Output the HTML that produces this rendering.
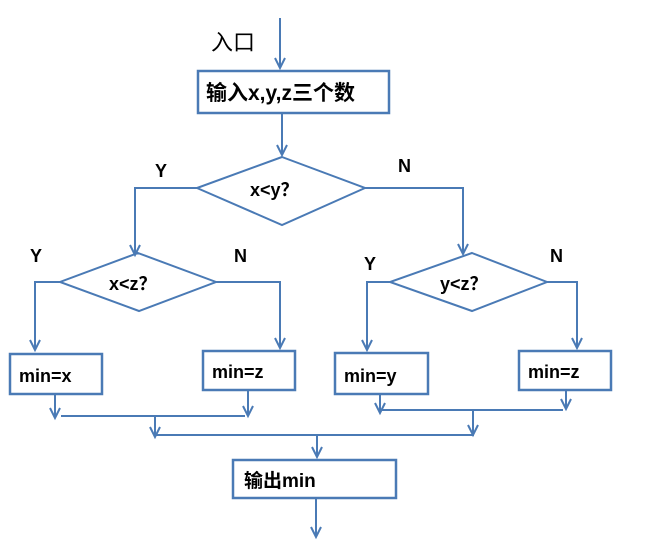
<!DOCTYPE html>
<html><head><meta charset="utf-8"><style>
html,body{margin:0;padding:0;background:#fff;}
svg{display:block}
text{font-family:"Liberation Sans","Noto Sans CJK SC",sans-serif;fill:#000;}
</style></head><body>
<svg width="672" height="542" viewBox="0 0 672 542" xmlns="http://www.w3.org/2000/svg">
<defs>
<marker id="a" markerWidth="12" markerHeight="12" refX="6" refY="11" orient="auto" markerUnits="userSpaceOnUse" viewBox="0 0 12 12">
<path d="M1,1 L6,11 L11,1" fill="none" stroke="#4a7ab5" stroke-width="1.6" transform="rotate(-90 6 6)"/>
</marker>
</defs>
<g stroke="#4a7ab5" stroke-width="2" fill="none">
<!-- entry -->
<line x1="280" y1="18" x2="280" y2="68"/>
<path d="M275,58 L280,68 L285,58"/>
<rect x="198" y="71" width="191" height="42" stroke-width="2.5"/>
<line x1="282" y1="113" x2="282" y2="155"/>
<path d="M277,145 L282,155 L287,145"/>
<polygon points="282,157 365,188 282,225 197,188"/>
<polyline points="197,188 135,188 135,255"/>
<path d="M130,245 L135,255 L140,245"/>
<polyline points="365,188 463,188 463,254"/>
<path d="M458,244 L463,254 L468,244"/>
<polygon points="138,253 216,282 139,311 60,282"/>
<polyline points="60,282 35,282 35,350"/>
<path d="M30,340 L35,350 L40,340"/>
<polyline points="216,282 280,282 280,348"/>
<path d="M275,338 L280,348 L285,338"/>
<polygon points="472,253 547,282 472,311 390,282"/>
<polyline points="390,282 367,282 367,350"/>
<path d="M362,340 L367,350 L372,340"/>
<polyline points="547,282 577,282 577,348"/>
<path d="M572,338 L577,348 L582,338"/>
<rect x="10" y="354" width="92" height="40" stroke-width="2.5"/>
<rect x="203" y="351" width="92" height="39" stroke-width="2.5"/>
<rect x="335" y="353" width="93" height="41" stroke-width="2.5"/>
<rect x="519" y="351" width="92" height="39" stroke-width="2.5"/>
<line x1="55" y1="394" x2="55" y2="418"/>
<path d="M50,408 L55,418 L60,408"/>
<line x1="248" y1="390" x2="248" y2="416"/>
<path d="M243,406 L248,416 L253,406"/>
<line x1="61" y1="416" x2="245" y2="416"/>
<line x1="380" y1="394" x2="380" y2="413"/>
<path d="M375,403 L380,413 L385,403"/>
<line x1="566" y1="390" x2="566" y2="409"/>
<path d="M561,399 L566,409 L571,399"/>
<line x1="381" y1="410" x2="563" y2="410"/>
<line x1="155" y1="416" x2="155" y2="437"/>
<path d="M150,427 L155,437 L160,427"/>
<line x1="473" y1="410" x2="473" y2="435"/>
<path d="M468,425 L473,435 L478,425"/>
<line x1="155" y1="435" x2="474" y2="435"/>
<line x1="317" y1="435" x2="317" y2="457"/>
<path d="M312,447 L317,457 L322,447"/>
<rect x="233" y="460" width="163" height="38" stroke-width="2.5"/>
<line x1="316" y1="498" x2="316" y2="537"/>
<path d="M311,527 L316,537 L321,527"/>
</g>
<text x="211" y="50" font-size="22">入口</text>
<text x="206" y="100" font-size="21" font-weight="bold">输入x,y,z三个数</text>
<text x="250" y="196" font-size="18" font-weight="bold">x&lt;y？</text>
<text x="109" y="290" font-size="18" font-weight="bold">x&lt;z？</text>
<text x="440" y="290" font-size="18" font-weight="bold">y&lt;z？</text>
<text x="19" y="382" font-size="18" font-weight="bold">min=x</text>
<text x="212" y="378" font-size="18" font-weight="bold">min=z</text>
<text x="344" y="382" font-size="18" font-weight="bold">min=y</text>
<text x="528" y="378" font-size="18" font-weight="bold">min=z</text>
<text x="244" y="487" font-size="19" font-weight="bold">输出min</text>
<g font-size="18" font-weight="bold">
<text x="155" y="177">Y</text>
<text x="398" y="172">N</text>
<text x="30" y="262">Y</text>
<text x="234" y="262">N</text>
<text x="364" y="270">Y</text>
<text x="550" y="262">N</text>
</g>
</svg>
</body></html>
